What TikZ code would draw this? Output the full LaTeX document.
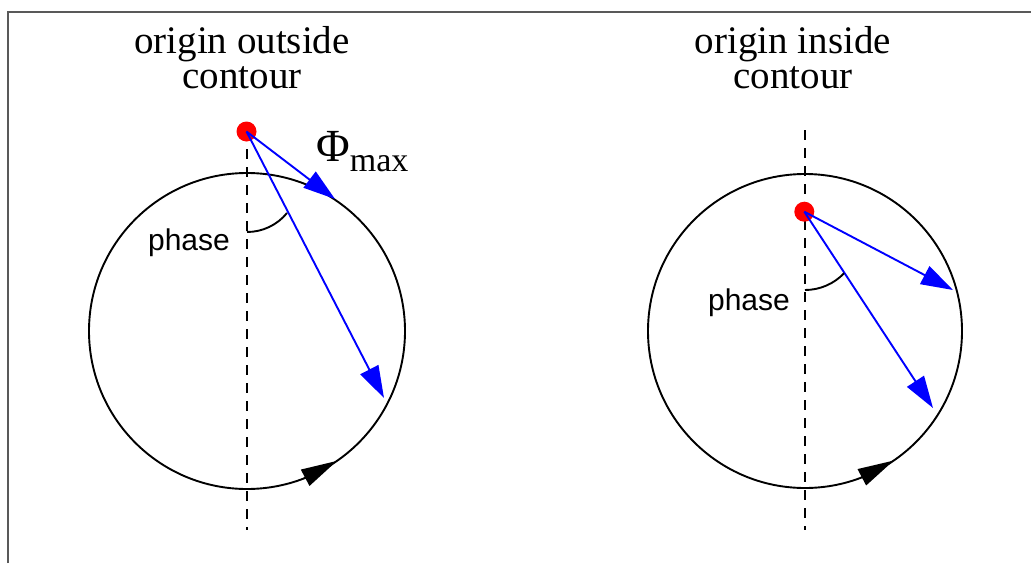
\documentclass[tikz,border=0pt]{standalone}
\usepackage{fontspec}
\setmainfont{Liberation Serif}
\newfontfamily\arialfont{Liberation Sans}
\usetikzlibrary{arrows.meta,calc}
\begin{document}
\begin{tikzpicture}[x=1pt,y=-1pt,
  frame/.style={draw=black!65,line width=1.6pt},
  contour/.style={draw=black,line width=1.9pt},
  axis/.style={draw=black,line width=1.5pt,dash pattern=on 10pt off 8pt},
  vec/.style={draw=blue,line width=1.9pt,-{Triangle[length=32pt,width=20pt]}},
  dir/.style={draw=black,line width=1.9pt,-{Triangle[length=36pt,width=18pt]}},
  phasearc/.style={draw=black,line width=1.9pt},
  origin/.style={circle,fill=red,inner sep=0pt,minimum size=20pt},
  title/.style={font=\fontsize{39}{35}\selectfont,align=center,anchor=base,inner sep=0pt},
  plabel/.style={font=\arialfont\fontsize{30}{30}\selectfont,anchor=base,inner sep=0pt},
]
\useasboundingbox (0,0) rectangle (1031,563);
% frame
\coordinate (fb) at (8,563);
\coordinate (fc) at (8,12);
\coordinate (fr) at (1031,12);
\draw[frame] (fb) -- (fc) -- (fr);

% ---------- left ----------
\node[title] (tl) at (242,88) {origin outside\\contour};
\coordinate (cL) at (247,331);
\draw[contour] (cL) circle[radius=158];
\coordinate (daL1) at (247,131);
\coordinate (daL2) at (247,530);
\draw[axis] (daL1) -- (daL2);
\coordinate (arL1) at ($(cL)+(68.8:158)$);
\coordinate (arL2) at ($(cL)+(55.3:158)$);
\draw[dir] (arL1) -- (arL2);
\node[origin] (oL) at (246.5,131.5) {};
\coordinate (tL1) at (335,199);
\coordinate (tL2) at (384,398);
\draw[vec] (oL.center) -- (tL1);
\draw[vec] (oL.center) -- (tL2);
\coordinate (pL) at (247,232);
\draw[phasearc] (pL) arc[start angle=90,end angle=39.2,radius=51.6];
\node[plabel] (phL) at (189,250) {phase};
\node[anchor=base west,inner sep=0pt] (phi) at (316,161.7)
  {\fontsize{46}{46}\selectfont Φ\raisebox{-10pt}{\fontsize{34}{34}\selectfont max}};

% ---------- right ----------
\node[title] (tr) at (793,88) {origin inside\\contour};
\coordinate (cR) at (805,331);
\draw[contour] (cR) circle[radius=157];
\coordinate (daR1) at (805,130);
\coordinate (daR2) at (805,530);
\draw[axis] (daR1) -- (daR2);
\coordinate (arR1) at ($(cR)+(69.0:157)$);
\coordinate (arR2) at ($(cR)+(55.6:157)$);
\draw[dir] (arR1) -- (arR2);
\node[origin] (oR) at (804.3,211.7) {};
\coordinate (tR1) at (953,290);
\coordinate (tR2) at (933,408);
\draw[vec] (oR.center) -- (tR1);
\draw[vec] (oR.center) -- (tR2);
\coordinate (pR) at (805,290);
\draw[phasearc] (pR) arc[start angle=90,end angle=43.6,radius=53.9];
\node[plabel] (phR) at (749,310) {phase};
\end{tikzpicture}
\end{document}
